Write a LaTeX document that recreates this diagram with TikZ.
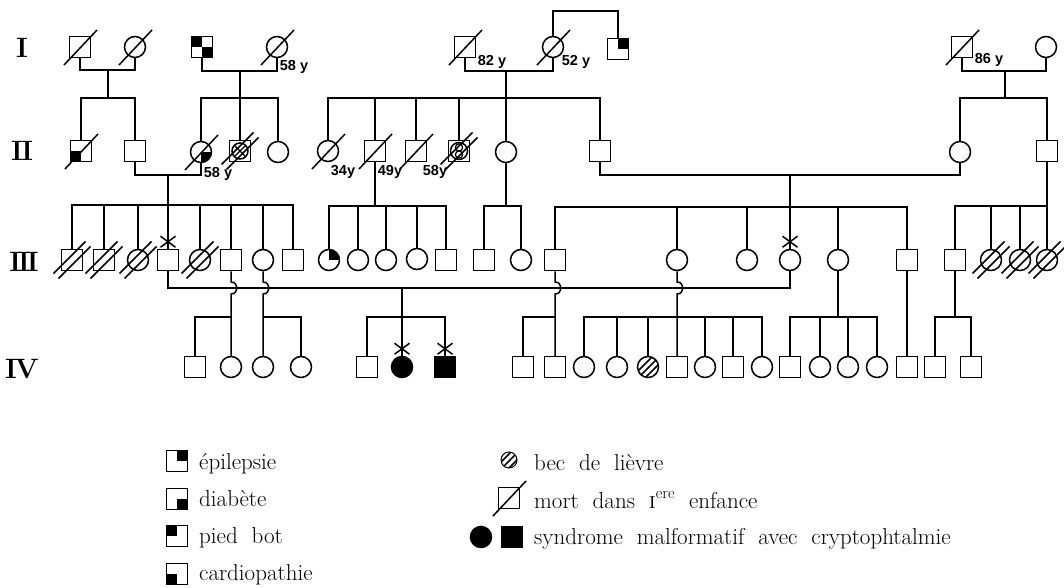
\documentclass[tikz,border=0pt]{standalone}
\usepackage{fontspec}
\newfontfamily\agefont{Liberation Sans}
\usetikzlibrary{calc}
\tikzset{
  conn/.style={line width=1.5pt},
  person/.style={draw, line width=1.5pt, minimum size=21pt, inner sep=0pt, fill=white},
  male/.style={person, rectangle},
  female/.style={person, circle},
  TR/.style={path picture={\fill[black] (path picture bounding box.center) rectangle (path picture bounding box.north east);}},
  TL/.style={path picture={\fill[black] (path picture bounding box.center) rectangle (path picture bounding box.north west);}},
  BR/.style={path picture={\fill[black] (path picture bounding box.center) rectangle (path picture bounding box.south east);}},
  BL/.style={path picture={\fill[black] (path picture bounding box.center) rectangle (path picture bounding box.south west);}},
  TLBR/.style={path picture={\fill[black] (path picture bounding box.center) rectangle (path picture bounding box.north west);
                             \fill[black] (path picture bounding box.center) rectangle (path picture bounding box.south east);}},
  hatch/.style={path picture={\foreach \d in {-3,0.5,4,7.5}
      \draw[black,line width=1.6pt] ($(path picture bounding box.center)+(\d-15,\d+15)$) -- ($(path picture bounding box.center)+(\d+15,\d-15)$);}},
  affected/.style={fill=black},
  age/.style={font=\agefont\bfseries\fontsize{14.5}{15}\selectfont, inner sep=0pt},
  gen/.style={font=\bfseries\fontsize{28}{28}\selectfont, inner sep=0pt},
  legtext/.style={font=\fontsize{23}{26}\selectfont, inner sep=0pt, anchor=base west},
}
\newcommand\dead[1]{\draw[conn] ($(#1.center)+(-16,18)$) -- ($(#1.center)+(17,-17)$);}
\newcommand\ddead[1]{\draw[conn] ($(#1.center)+(-13.5,18.5)$) -- ($(#1.center)+(18.5,-13.5)$);
  \draw[conn] ($(#1.center)+(-18.5,13.5)$) -- ($(#1.center)+(13.5,-18.5)$);}
\newcommand\xmark[1]{\draw[conn] ($(#1.north)+(-7.5,-12.5)$) -- ($(#1.north)+(7.5,-1.5)$);
  \draw[conn] ($(#1.north)+(-7.5,-1.5)$) -- ($(#1.north)+(7.5,-12.5)$);}
\begin{document}
\begin{tikzpicture}[x=1pt,y=-1pt]
\useasboundingbox[fill=white] (0,0) rectangle (1064,588);

% generation labels
\node[gen] (gI) at (22,48) {I};
\node[gen] (gII) at (22,151) {I\kern-1.5ptI};
\node[gen] (gIII) at (24,262) {I\kern-3ptI\kern-3ptI};
\node[gen] (gIV) at (22,369) {I\kern-2ptV};

% ---------- Generation I ----------
\node[male]   (I1) at (80,47) {};
\node[female] (I2) at (135,47) {};
\node[male,TLBR] (I3) at (202,47) {};
\node[female] (I4) at (277,47) {};
\node[male]   (I5) at (465,47) {};
\node[female] (I6) at (553,47) {};
\node[male,TR] (I7) at (618,49) {};
\node[male]   (I8) at (962,47) {};
\node[female] (I9) at (1046,47) {};
\dead{I1}\dead{I2}\dead{I4}\dead{I5}\dead{I6}\dead{I8}
\node[age] (aI4) at (294,67) {58 y};
\node[age] (aI5) at (492,62) {82 y};
\node[age] (aI6) at (576,62) {52 y};
\node[age] (aI8) at (989,60) {86 y};

% ---------- Generation II ----------
\node[male,BL] (II1) at (81,151) {};
\node[male]    (II2) at (135,151) {};
\node[female,BR] (II3) at (201,152) {};
\node[male]    (II4) at (240,151) {};
\node[female]  (II5) at (278,152) {};
\node[female]  (II6) at (328,151) {};
\node[male]    (II7) at (375,151) {};
\node[male]    (II8) at (416,151) {};
\node[male]    (II9) at (459,151) {};
\node[female]  (II10) at (506,152) {};
\node[male]    (II11) at (600,151) {};
\node[female]  (II12) at (960,152) {};
\node[male]    (II13) at (1047,151) {};
\dead{II1}\dead{II3}\dead{II6}\dead{II7}\dead{II8}
% II4: square with circled cross
\draw[conn] (II4.center) circle (8);
\draw[line width=1.2pt] ($(II4.center)+(-5.7,-5.7)$) -- ($(II4.center)+(5.7,5.7)$);
\draw[line width=1.2pt] ($(II4.center)+(-5.7,5.7)$) -- ($(II4.center)+(5.7,-5.7)$);
\ddead{II4}
% II9: square with circle and 8
\draw[conn] (II9.center) circle (8.5);
\draw[line width=1.2pt] ($(II9.center)+(0,-3.6)$) circle (3.6);
\draw[line width=1.2pt] ($(II9.center)+(0,3.6)$) circle (3.6);
\ddead{II9}
\node[age] (aII3) at (218,174) {58 y};
\node[age] (aII6) at (343,172) {34y};
\node[age] (aII7) at (390,172) {49y};
\node[age] (aII8) at (435,172) {58y};

% ---------- Generation III ----------
\node[male]   (III1) at (72,260) {};
\node[male]   (III2) at (104,260) {};
\node[female] (III3) at (138,260) {};
\node[male]   (III4) at (168,260) {};
\node[female] (III5) at (200,260) {};
\node[male]   (III6) at (231,260) {};
\node[female] (III7) at (263,260) {};
\node[male]   (III8) at (293,260) {};
\node[female,TR] (III9) at (329,260) {};
\node[female] (III10) at (358,260) {};
\node[female] (III11) at (386,260) {};
\node[female] (III12) at (417,259) {};
\node[male]   (III13) at (446,260) {};
\node[male]   (III14) at (484,260) {};
\node[female] (III15) at (521,260) {};
\node[male]   (III16) at (555,260) {};
\node[female] (III17) at (677,260) {};
\node[female] (III18) at (747,260) {};
\node[female] (III19) at (790,260) {};
\node[female] (III20) at (838,260) {};
\node[male]   (III21) at (907,260) {};
\node[male]   (III22) at (955,260) {};
\node[female] (III23) at (991,260) {};
\node[female] (III24) at (1020,260) {};
\node[female] (III25) at (1047,260) {};
\ddead{III1}\ddead{III2}\ddead{III3}\ddead{III5}\ddead{III23}\ddead{III24}\ddead{III25}

% ---------- Generation IV ----------
\node[male]   (IV1) at (195,367) {};
\node[female] (IV2) at (231,367) {};
\node[female] (IV3) at (263,367) {};
\node[female] (IV4) at (301,367) {};
\node[male]   (IV5) at (367,367) {};
\node[female,affected] (IV6) at (402,367) {};
\node[male,affected]   (IV7) at (445,367) {};
\node[male]   (IV8) at (523,367) {};
\node[male]   (IV9) at (555,367) {};
\node[female] (IV10) at (584,367) {};
\node[female] (IV11) at (617,367) {};
\node[female,hatch] (IV12) at (648,367) {};
\node[male]   (IV13) at (677,367) {};
\node[female] (IV14) at (705,367) {};
\node[male]   (IV15) at (733,367) {};
\node[female] (IV16) at (762,367) {};
\node[male]   (IV17) at (790,367) {};
\node[female] (IV18) at (820,367) {};
\node[female] (IV19) at (848,367) {};
\node[female] (IV20) at (877,367) {};
\node[male]   (IV21) at (907,367) {};
\node[male]   (IV22) at (935,367) {};
\node[male]   (IV23) at (971,367) {};

% ---------- coordinates ----------
\coordinate (m1) at (108,70);  \coordinate (s1) at (108,98);
\coordinate (m2) at (240,71);  \coordinate (s2) at (240,98);
\coordinate (m3) at (506,71);  \coordinate (s3) at (506,98);
\coordinate (m4) at (1005,71); \coordinate (s4) at (1005,98);
\coordinate (t1) at (585,11);
\coordinate (m5) at (168,175); \coordinate (s5) at (168,205);
\coordinate (s6) at (375,206);
\coordinate (s7) at (506,206);
\coordinate (m8) at (790,175); \coordinate (s8) at (790,207);
\coordinate (s9) at (1047,206);
\coordinate (m10) at (402,288); \coordinate (s10) at (402,317);
\coordinate (s11) at (231,317);
\coordinate (s12) at (263,317);
\coordinate (s13) at (555,317);
\coordinate (s14) at (677,317);
\coordinate (s15) at (838,317);
\coordinate (s16) at (955,317);

% ---------- connectors ----------
% generation I matings
\draw[conn] (I1.south) |- (m1) -| (I2.south);
\draw[conn] (m1) -- (s1);
\draw[conn] (I3.south) |- (m2) -| (I4.south);
\draw[conn] (m2) -- (II4.north);
\draw[conn] (I5.south) |- (m3) -| (I6.south);
\draw[conn] (m3) -- (s3);
\draw[conn] (I6.north) |- (t1) -| (I7.north);
\draw[conn] (I8.south) |- (m4) -| (I9.south);
\draw[conn] (m4) -- (s4);
% sibships II
\foreach \c in {II1,II2} \draw[conn] (s1) -| (\c.north);
\foreach \c in {II3,II5} \draw[conn] (s2) -| (\c.north);
\foreach \c in {II6,II7,II8,II9,II10,II11} \draw[conn] (s3) -| (\c.north);
\foreach \c in {II12,II13} \draw[conn] (s4) -| (\c.north);
% generation II matings
\draw[conn] (II2.south) |- (m5) -| (II3.south);
\draw[conn] (m5) -- (III4.north);
\draw[conn] (II7.south) -- (s6);
\draw[conn] (II10.south) -- (s7);
\draw[conn] (II11.south) |- (m8) -| (II12.south);
\draw[conn] (m8) -- (III19.north);
\draw[conn] (II13.south) -- (s9);
% sibships III
\foreach \c in {III1,III2,III3,III5,III6,III7,III8} \draw[conn] (s5) -| (\c.north);
\foreach \c in {III9,III10,III11,III12,III13} \draw[conn] (s6) -| (\c.north);
\foreach \c in {III14,III15} \draw[conn] (s7) -| (\c.north);
\foreach \c in {III16,III17,III18,III20,III21} \draw[conn] (s8) -| (\c.north);
\foreach \c in {III22,III23,III24,III25} \draw[conn] (s9) -| (\c.north);
% generation III mating (consanguineous cross-over line)
\draw[conn] (III4.south) |- (m10) -| (III19.south);
\draw[conn] (m10) -- (IV6.north);
\foreach \c in {IV5,IV7} \draw[conn] (s10) -| (\c.north);
% descending lines jumping over the mating line
\draw[conn] (III6.south) -- (231,282) .. controls (239,282) and (239,294) .. (231,294) -- (IV2.north);
\draw[conn] (s11) -| (IV1.north);
\draw[conn] (III7.south) -- (263,282) .. controls (271,282) and (271,294) .. (263,294) -- (IV3.north);
\draw[conn] (s12) -| (IV4.north);
\draw[conn] (III16.south) -- (555,282) .. controls (563,282) and (563,294) .. (555,294) -- (IV9.north);
\draw[conn] (s13) -| (IV8.north);
\draw[conn] (III17.south) -- (677,282) .. controls (685,282) and (685,294) .. (677,294) -- (IV13.north);
\foreach \c in {IV10,IV11,IV12,IV14,IV15,IV16} \draw[conn] (s14) -| (\c.north);
\draw[conn] (III20.south) -- (s15);
\foreach \c in {IV17,IV18,IV19,IV20} \draw[conn] (s15) -| (\c.north);
\draw[conn] (III21.south) -- (IV21.north);
\draw[conn] (III22.south) -- (s16);
\foreach \c in {IV22,IV23} \draw[conn] (s16) -| (\c.north);
% marks
\xmark{III4}\xmark{III19}\xmark{IV6}\xmark{IV7}

% ---------- legend ----------
\node[male,TR,line width=1.2pt] (L1) at (177,461) {};
\node[legtext] (L1t) at (199,469) {épilepsie};
\node[male,BR,line width=1.2pt] (L2) at (177,499) {};
\node[legtext] (L2t) at (199,506) {diabète};
\node[male,TL,line width=1.2pt] (L3) at (177,536) {};
\node[legtext] (L3t) at (199,543) {pied\ \ bot};
\node[male,BL,line width=1.2pt] (L4) at (177,574) {};
\node[legtext] (L4t) at (199,580) {cardiopathie};

\node[female,hatch,minimum size=16pt,line width=1pt] (R1) at (509,460) {};
\node[legtext] (R1t) at (534,470) {bec\ \ de\ \ lièvre};
\node[male,minimum size=21pt,line width=1.2pt] (R2) at (509,498) {};
\dead{R2}
\node[legtext] (R2t) at (534,508) {mort\ \ dans\ \ \textsc{i}\textsuperscript{ere}\ \ enfance};
\node[female,affected] (R3a) at (481,537) {};
\node[male,affected] (R3b) at (512,537) {};
\node[legtext] (R3t) at (534,544) {syndrome\ \ malformatif\ \ avec\ \ cryptophtalmie};
\end{tikzpicture}
\end{document}
